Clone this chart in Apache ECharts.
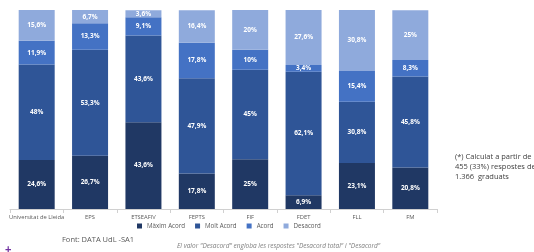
<!DOCTYPE html>
<html><head><meta charset="utf-8">
<script src="https://cdn.jsdelivr.net/npm/echarts@6/dist/echarts.min.js"></script>
<style>html,body{margin:0;padding:0;background:#fff}#c{width:534px;height:252px}</style>
</head><body><div id="c"></div>
<script>
const categories = ["Universitat de Lleida","EPS","ETSEAFIV","FEPTS","FIF","FDET","FLL","FM"];
const maximAcord = [24.6,26.7,43.6,17.8,25,6.9,23.1,20.8];
const moltAcord = [48,53.3,43.6,47.9,45,62.1,30.8,45.8];
const acord = [11.9,13.3,9.1,17.8,10,3.4,15.4,8.3];
const desacord = [15.6,6.7,3.6,16.4,20,27.6,30.8,25];
const seriesNames = ["Màxim Acord","Molt Acord","Acord","Desacord"];
const colors = ["#203864","#2f5597","#4472c4","#8faadc"];
const data = [maximAcord, moltAcord, acord, desacord];
const fmt = v => String(v).replace('.', ',') + '%';
const chart = echarts.init(document.getElementById('c'));
chart.setOption({
  animation:false,
  grid:{left:10,right:97,top:10,bottom:43},
  legend:{left:137, top:223, icon:'rect', itemWidth:5, itemHeight:5, itemGap:10,
    textStyle:{fontSize:6.2,color:'#595959',fontFamily:'Open Sans'}, padding:[0,0,0,0],
    data:seriesNames},
  xAxis:{type:'category',data:categories,
    axisLine:{lineStyle:{color:'#d0d0d0'}},
    axisTick:{show:true,length:4,lineStyle:{color:'#d0d0d0'}},
    axisLabel:{interval:0,fontSize:5.8,color:'#595959',margin:5,fontFamily:'Open Sans'}},
  yAxis:{type:'value',min:0,max:100,show:false},
  series: data.map((d,i)=>({
    name:seriesNames[i], type:'bar', stack:'t', data:d, barWidth:36,
    itemStyle:{color:colors[i]},
    label:{show:true,position:'inside',color:'#fff',fontSize:6.5,fontWeight:'bold',fontFamily:'Open Sans',
      formatter:p=>fmt(p.value)}
  })),
  graphic:[
    {type:'text',left:62,top:236,style:{text:'Font: DATA UdL -SA1',fontSize:7.5,fill:'#595959',fontFamily:'Open Sans'}},
    {type:'text',left:177,top:243,style:{text:'El valor "Desacord" engloba les respostes "Desacord total" i "Desacord"',fontSize:6.5,fontStyle:'italic',fill:'#7f7f7f',fontFamily:'Open Sans'}},
    {type:'text',left:455,top:152,style:{text:'(*) Calculat a partir de\n455 (33%) respostes de\n1.366  graduats',fontSize:7.5,lineHeight:10,fill:'#404040',fontFamily:'Open Sans'}},
    {type:'text',left:5,top:244,style:{text:'+',fontSize:11,fontWeight:'bold',fill:'#7030a0'}}
  ]
});
</script></body></html>
